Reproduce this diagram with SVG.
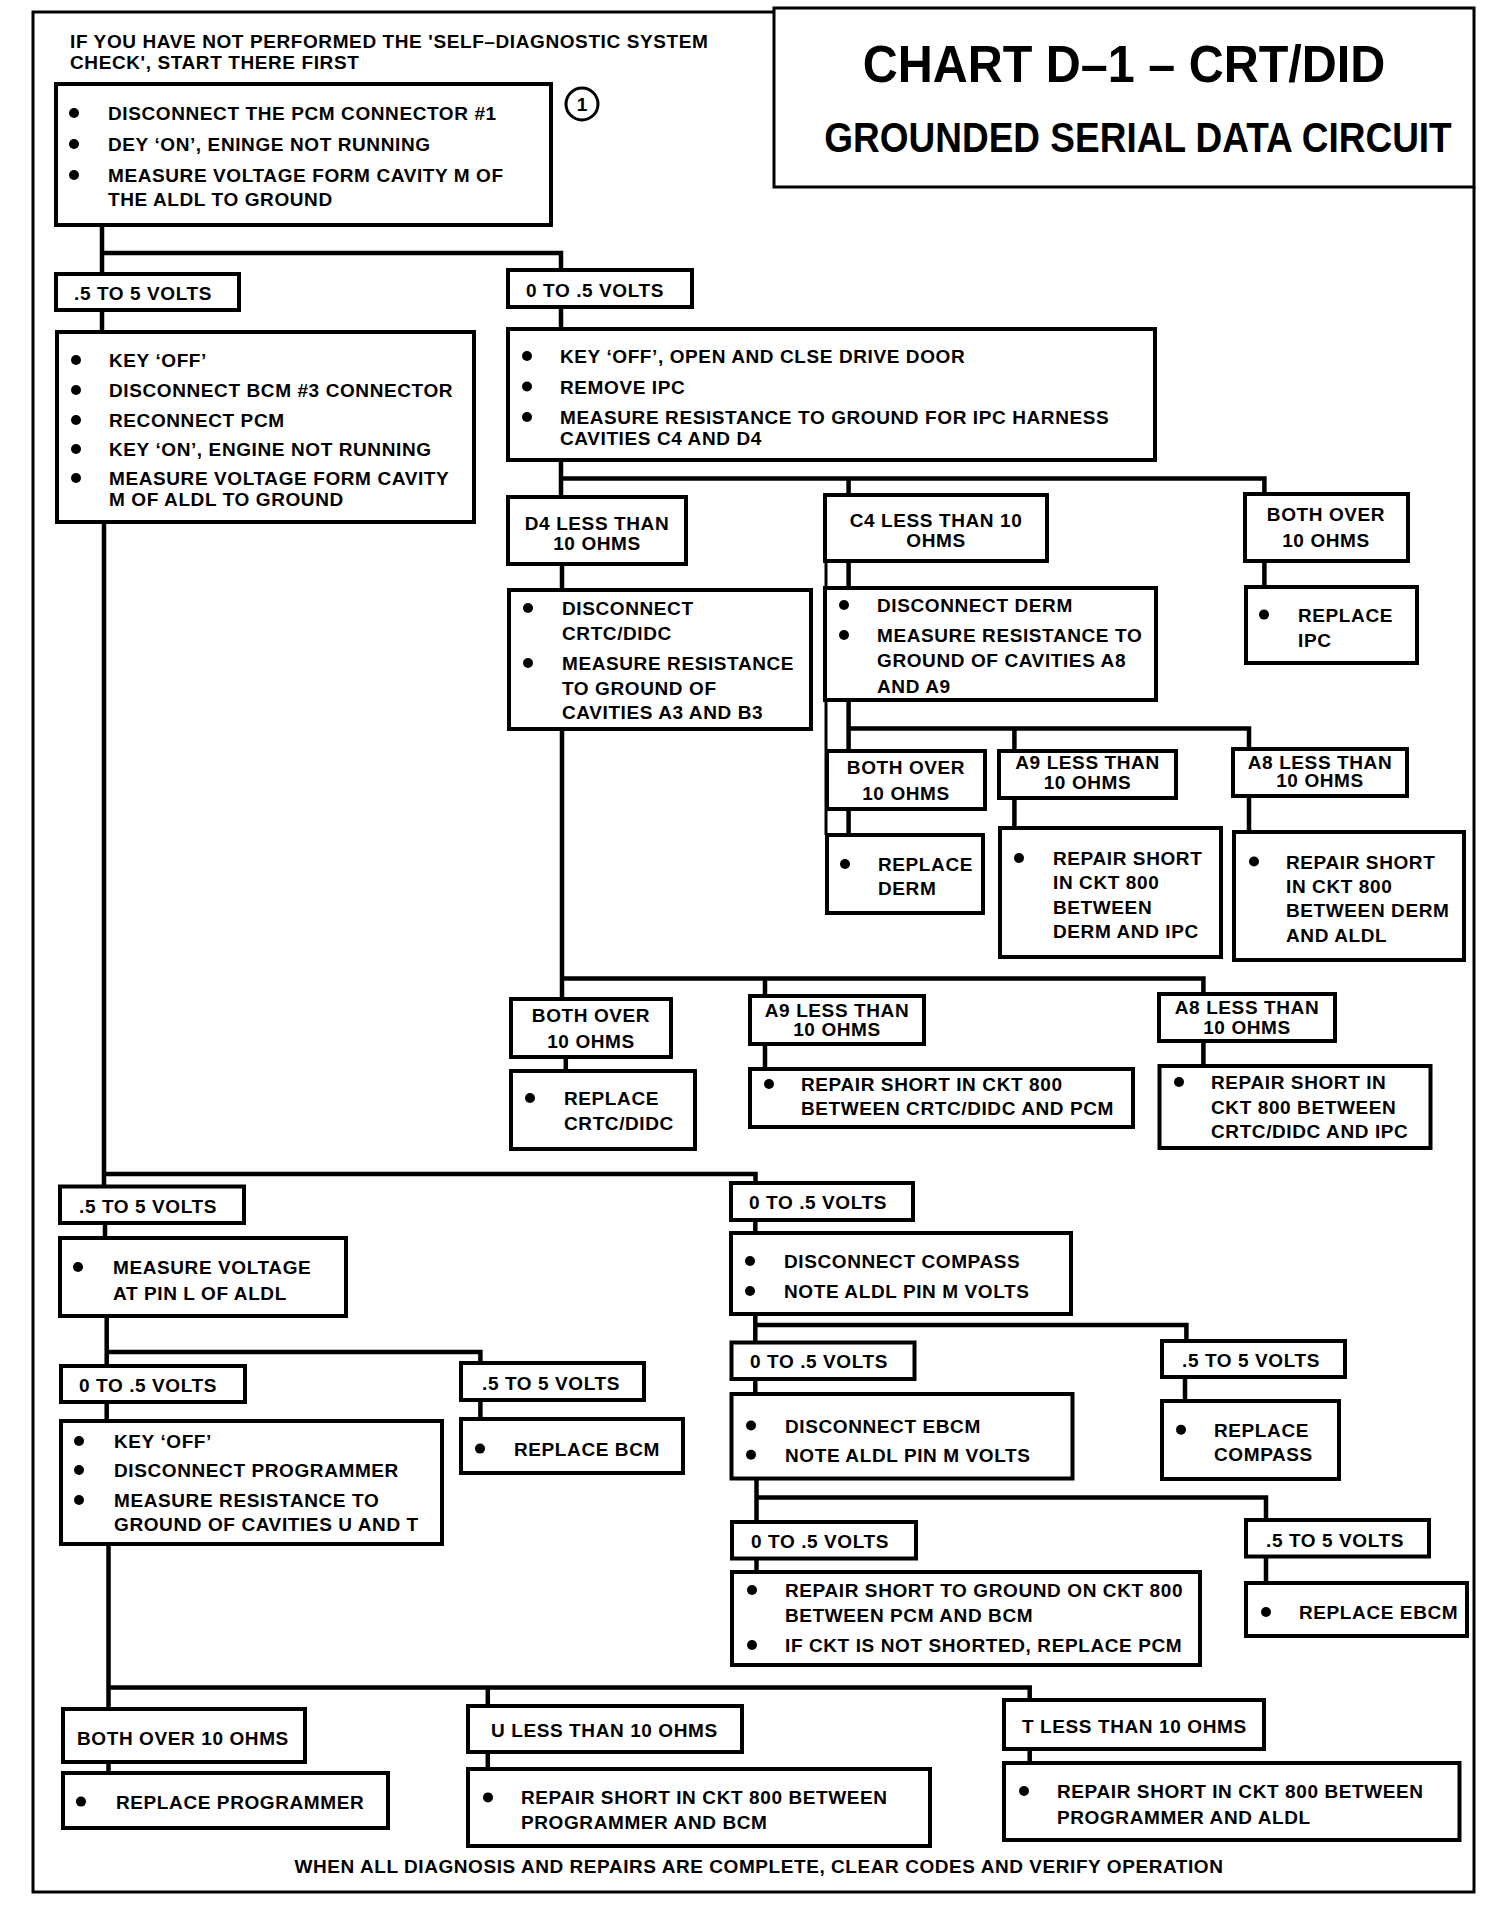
<svg xmlns="http://www.w3.org/2000/svg" width="1504" height="1912" viewBox="0 0 1504 1912">
<style>
.b{fill:#fff;stroke:#000;stroke-width:4}
.t{font-family:"Liberation Sans",Arial,sans-serif;font-weight:bold;font-size:19px;letter-spacing:0.6px;fill:#000}
.c{text-anchor:middle}
.w{fill:none;stroke:#000;stroke-width:4.5;stroke-linecap:square}
.f{fill:none;stroke:#000;stroke-width:3}
.h{font-family:"Liberation Sans",Arial,sans-serif;font-weight:bold;fill:#000;text-anchor:middle}
</style>
<defs><circle id="d" r="5" fill="#000"/></defs>
<rect width="1504" height="1912" fill="#fff"/>
<g id="frame">
<path class="f" d="M774,12 H33 V1892 H1474 V187"/>
</g>
<g id="title">
<rect x="774" y="8" width="700" height="179" class="f"/>
<text class="h" font-size="48.5" transform="translate(1124,82) scale(1,1.05)">CHART D–1 – CRT/DID</text>
<text class="h" font-size="37" transform="translate(1138,152) scale(1,1.15)">GROUNDED SERIAL DATA CIRCUIT</text>
</g>
<g id="connectors">
<path class="w" d="M102,225 V274 M102,253 H561 V270 M102,310 V332 M561,307 V329"/>
<path class="w" d="M104,522 V1186 M104,1174 H755.5 V1183"/>
<path class="w" d="M561,460 V497 M561,478.6 H1264.4 V494 M848.6,478.6 V495"/>
<path class="w" d="M562,564 V590 M562,729 V999 M562,978.6 H1203.4 V994 M765,978.6 V996"/>
<path class="w" d="M848.6,561 V588 M848.6,700 V751 M848.6,728.6 H1249 V749 M1014.4,728.6 V751 M848.6,809.7 V835"/>
<path class="f" d="M826,561 V835"/>
<path class="w" d="M1264.4,561 V587 M1014.4,797.5 V828 M1249,796 V832"/>
<path class="w" d="M565.8,1057 V1071 M765,1044 V1069 M1203.4,1041 V1066"/>
<path class="w" d="M105,1223 V1238 M106.7,1316 V1366 M106.7,1352 H480.4 V1363 M106.7,1402 V1421 M480.4,1400 V1419"/>
<path class="w" d="M108.5,1544 V1709 M108.5,1687.6 H1029.7 V1700 M487.8,1687.6 V1706 M108.5,1762 V1773 M487.8,1752 V1769 M1029.7,1749 V1763"/>
<path class="w" d="M755.3,1220 V1233 M755.3,1314 V1342.5 M755.3,1325 H1186.4 V1341 M755.3,1379 V1394 M1185,1377 V1401"/>
<path class="w" d="M756.5,1478.5 V1522 M756.5,1497.4 H1266 V1520 M756.5,1558.4 V1572 M1266,1556.5 V1583"/>
</g>
<g id="note">
<text class="t" x="70" y="48">IF YOU HAVE NOT PERFORMED THE 'SELF–DIAGNOSTIC SYSTEM</text>
<text class="t" x="70" y="69">CHECK', START THERE FIRST</text>
</g>
<g id="n1">
<rect class="b" x="56" y="84" width="495" height="141"/>
<use href="#d" x="74" y="113"/><use href="#d" x="74" y="144"/><use href="#d" x="74" y="175"/>
<text class="t" x="108" y="120">DISCONNECT THE PCM CONNECTOR #1</text>
<text class="t" x="108" y="151">DEY ‘ON’, ENINGE NOT RUNNING</text>
<text class="t" x="108" y="182">MEASURE VOLTAGE FORM CAVITY M OF</text>
<text class="t" x="108" y="206">THE ALDL TO GROUND</text>
</g>
<g id="step1">
<circle cx="582" cy="104" r="16" fill="none" stroke="#000" stroke-width="3"/>
<text class="h" x="582" y="111" font-size="19">1</text>
</g>
<g id="l1"><rect class="b" x="56" y="274" width="183" height="36"/><text class="t" x="74" y="300">.5 TO 5 VOLTS</text></g>
<g id="r1"><rect class="b" x="508" y="270" width="184" height="37"/><text class="t" x="526" y="297">0 TO .5 VOLTS</text></g>
<g id="n2">
<rect class="b" x="57" y="332" width="417" height="190"/>
<use href="#d" x="76" y="360"/><use href="#d" x="76" y="390"/><use href="#d" x="76" y="420"/><use href="#d" x="76" y="449"/><use href="#d" x="76" y="478"/>
<text class="t" x="109" y="367">KEY ‘OFF’</text>
<text class="t" x="109" y="397">DISCONNECT BCM #3 CONNECTOR</text>
<text class="t" x="109" y="427">RECONNECT PCM</text>
<text class="t" x="109" y="456">KEY ‘ON’, ENGINE NOT RUNNING</text>
<text class="t" x="109" y="485">MEASURE VOLTAGE FORM CAVITY</text>
<text class="t" x="109" y="506">M OF ALDL TO GROUND</text>
</g>
<g id="n3">
<rect class="b" x="508" y="329" width="647" height="131"/>
<use href="#d" x="527" y="356"/><use href="#d" x="527" y="386.5"/><use href="#d" x="527" y="417"/>
<text class="t" x="560" y="363">KEY ‘OFF’, OPEN AND CLSE DRIVE DOOR</text>
<text class="t" x="560" y="393.5">REMOVE IPC</text>
<text class="t" x="560" y="424">MEASURE RESISTANCE TO GROUND FOR IPC HARNESS</text>
<text class="t" x="560" y="445">CAVITIES C4 AND D4</text>
</g>
<g id="d4"><rect class="b" x="508" y="497" width="178" height="67"/>
<text class="t c" x="597" y="529.5">D4 LESS THAN</text><text class="t c" x="597" y="549.6">10 OHMS</text></g>
<g id="c4"><rect class="b" x="825" y="495" width="222" height="66"/>
<text class="t c" x="936" y="527">C4 LESS THAN 10</text><text class="t c" x="936" y="547">OHMS</text></g>
<g id="bothipc"><rect class="b" x="1245" y="494" width="163" height="67"/>
<text class="t c" x="1326" y="521">BOTH OVER</text><text class="t c" x="1326" y="547">10 OHMS</text></g>
<g id="repipc"><rect class="b" x="1246" y="587" width="171" height="76"/>
<use href="#d" x="1264" y="614.6"/>
<text class="t" x="1298" y="621.6">REPLACE</text><text class="t" x="1298" y="647">IPC</text></g>
<g id="n4"><rect class="b" x="509" y="590" width="302" height="139"/>
<use href="#d" x="528" y="608"/><use href="#d" x="528" y="663"/>
<text class="t" x="562" y="615">DISCONNECT</text>
<text class="t" x="562" y="640">CRTC/DIDC</text>
<text class="t" x="562" y="670">MEASURE RESISTANCE</text>
<text class="t" x="562" y="695">TO GROUND OF</text>
<text class="t" x="562" y="719">CAVITIES A3 AND B3</text></g>
<g id="n5"><rect class="b" x="825" y="588" width="331" height="112"/>
<use href="#d" x="844" y="605"/><use href="#d" x="844" y="635"/>
<text class="t" x="877" y="612">DISCONNECT DERM</text>
<text class="t" x="877" y="642">MEASURE RESISTANCE TO</text>
<text class="t" x="877" y="667">GROUND OF CAVITIES A8</text>
<text class="t" x="877" y="693">AND A9</text></g>
<g id="bothderm"><rect class="b" x="827" y="751" width="158" height="58"/>
<text class="t c" x="906" y="774">BOTH OVER</text><text class="t c" x="906" y="800">10 OHMS</text></g>
<g id="repderm"><rect class="b" x="827" y="835" width="156" height="78"/>
<use href="#d" x="845" y="864"/>
<text class="t" x="878" y="871">REPLACE</text><text class="t" x="878" y="895">DERM</text></g>
<g id="a9derm"><rect class="b" x="999" y="751" width="177" height="47"/>
<text class="t c" x="1087.5" y="769">A9 LESS THAN</text><text class="t c" x="1087.5" y="788.6">10 OHMS</text></g>
<g id="repdermipc"><rect class="b" x="1000" y="828" width="221" height="129"/>
<use href="#d" x="1019" y="858"/>
<text class="t" x="1053" y="865">REPAIR SHORT</text>
<text class="t" x="1053" y="889">IN CKT 800</text>
<text class="t" x="1053" y="914">BETWEEN</text>
<text class="t" x="1053" y="938">DERM AND IPC</text></g>
<g id="a8derm"><rect class="b" x="1233" y="749" width="174" height="47"/>
<text class="t c" x="1320" y="769">A8 LESS THAN</text><text class="t c" x="1320" y="787.4">10 OHMS</text></g>
<g id="repdermaldl"><rect class="b" x="1234" y="832" width="230" height="128"/>
<use href="#d" x="1254" y="861.5"/>
<text class="t" x="1286" y="868.5">REPAIR SHORT</text>
<text class="t" x="1286" y="893">IN CKT 800</text>
<text class="t" x="1286" y="917">BETWEEN DERM</text>
<text class="t" x="1286" y="941.7">AND ALDL</text></g>
<g id="bothcrtc"><rect class="b" x="511" y="999" width="160" height="58"/>
<text class="t c" x="591" y="1022">BOTH OVER</text><text class="t c" x="591" y="1048">10 OHMS</text></g>
<g id="repcrtc"><rect class="b" x="511" y="1071" width="184" height="78"/>
<use href="#d" x="530" y="1098"/>
<text class="t" x="564" y="1105">REPLACE</text><text class="t" x="564" y="1129.5">CRTC/DIDC</text></g>
<g id="a9crtc"><rect class="b" x="750" y="996" width="174" height="48"/>
<text class="t c" x="837" y="1016.7">A9 LESS THAN</text><text class="t c" x="837" y="1036">10 OHMS</text></g>
<g id="repcrtcpcm"><rect class="b" x="750" y="1069" width="383" height="58"/>
<use href="#d" x="769" y="1084"/>
<text class="t" x="801" y="1091">REPAIR SHORT IN CKT 800</text>
<text class="t" x="801" y="1115.4">BETWEEN CRTC/DIDC AND PCM</text></g>
<g id="a8crtc"><rect class="b" x="1159" y="994" width="176" height="47"/>
<text class="t c" x="1247" y="1013.6">A8 LESS THAN</text><text class="t c" x="1247" y="1034.3">10 OHMS</text></g>
<g id="repcrtcipc"><rect class="b" x="1159.5" y="1066" width="271" height="82"/>
<use href="#d" x="1179" y="1082"/>
<text class="t" x="1211" y="1089">REPAIR SHORT IN</text>
<text class="t" x="1211" y="1113.6">CKT 800 BETWEEN</text>
<text class="t" x="1211" y="1138">CRTC/DIDC AND IPC</text></g>
<g id="l2"><rect class="b" x="60" y="1186.5" width="184" height="36.5"/><text class="t" x="79" y="1213">.5 TO 5 VOLTS</text></g>
<g id="n6"><rect class="b" x="60" y="1238" width="286" height="78"/>
<use href="#d" x="78" y="1267"/>
<text class="t" x="113" y="1274">MEASURE VOLTAGE</text><text class="t" x="113" y="1299.6">AT PIN L OF ALDL</text></g>
<g id="l3"><rect class="b" x="61" y="1366" width="184" height="36"/><text class="t" x="79" y="1392">0 TO .5 VOLTS</text></g>
<g id="n7"><rect class="b" x="61" y="1421" width="381" height="123"/>
<use href="#d" x="79" y="1441"/><use href="#d" x="79" y="1470"/><use href="#d" x="79" y="1500"/>
<text class="t" x="114" y="1448">KEY ‘OFF’</text>
<text class="t" x="114" y="1477">DISCONNECT PROGRAMMER</text>
<text class="t" x="114" y="1507">MEASURE RESISTANCE TO</text>
<text class="t" x="114" y="1531">GROUND OF CAVITIES U AND T</text></g>
<g id="l4"><rect class="b" x="461" y="1363" width="183" height="37"/><text class="t" x="482" y="1390">.5 TO 5 VOLTS</text></g>
<g id="repbcm"><rect class="b" x="461" y="1419" width="222" height="54"/>
<use href="#d" x="480" y="1448.6"/><text class="t" x="514" y="1455.6">REPLACE BCM</text></g>
<g id="r2"><rect class="b" x="731" y="1183" width="182" height="37"/><text class="t" x="749" y="1208.7">0 TO .5 VOLTS</text></g>
<g id="n8"><rect class="b" x="731" y="1233" width="340" height="81"/>
<use href="#d" x="750" y="1261"/><use href="#d" x="750" y="1291"/>
<text class="t" x="784" y="1268">DISCONNECT COMPASS</text><text class="t" x="784" y="1298">NOTE ALDL PIN M VOLTS</text></g>
<g id="r3"><rect class="b" x="731.5" y="1342.5" width="183" height="36.5"/><text class="t" x="750" y="1368">0 TO .5 VOLTS</text></g>
<g id="n9"><rect class="b" x="731.5" y="1394" width="341" height="84.5"/>
<use href="#d" x="751" y="1425.5"/><use href="#d" x="751" y="1454.7"/>
<text class="t" x="785" y="1432.5">DISCONNECT EBCM</text><text class="t" x="785" y="1461.7">NOTE ALDL PIN M VOLTS</text></g>
<g id="l5"><rect class="b" x="1162" y="1341" width="183" height="36"/><text class="t" x="1182" y="1366.6">.5 TO 5 VOLTS</text></g>
<g id="repcompass"><rect class="b" x="1162" y="1401" width="177" height="78"/>
<use href="#d" x="1181" y="1429.7"/>
<text class="t" x="1214" y="1436.7">REPLACE</text><text class="t" x="1214" y="1461">COMPASS</text></g>
<g id="r4"><rect class="b" x="732" y="1522" width="184" height="36.5"/><text class="t" x="751" y="1548">0 TO .5 VOLTS</text></g>
<g id="n10"><rect class="b" x="732" y="1572" width="468" height="93"/>
<use href="#d" x="752" y="1590"/><use href="#d" x="752" y="1645"/>
<text class="t" x="785" y="1597">REPAIR SHORT TO GROUND ON CKT 800</text>
<text class="t" x="785" y="1621.5">BETWEEN PCM AND BCM</text>
<text class="t" x="785" y="1652">IF CKT IS NOT SHORTED, REPLACE PCM</text></g>
<g id="l6"><rect class="b" x="1246" y="1520" width="183" height="36.5"/><text class="t" x="1266" y="1546.5">.5 TO 5 VOLTS</text></g>
<g id="repebcm"><rect class="b" x="1246" y="1583" width="221" height="53"/>
<use href="#d" x="1266" y="1612"/><text class="t" x="1299" y="1619">REPLACE EBCM</text></g>
<g id="bothprog"><rect class="b" x="63" y="1709" width="242" height="53"/><text class="t" x="77" y="1745">BOTH OVER 10 OHMS</text></g>
<g id="repprog"><rect class="b" x="63" y="1773" width="325" height="55"/>
<use href="#d" x="81" y="1801.6"/><text class="t" x="116" y="1808.6">REPLACE PROGRAMMER</text></g>
<g id="uless"><rect class="b" x="468" y="1706" width="274" height="46"/><text class="t" x="491" y="1737">U LESS THAN 10 OHMS</text></g>
<g id="repprogbcm"><rect class="b" x="468" y="1769" width="462" height="77"/>
<use href="#d" x="488" y="1797.4"/>
<text class="t" x="521" y="1804.4">REPAIR SHORT IN CKT 800 BETWEEN</text>
<text class="t" x="521" y="1828.8">PROGRAMMER AND BCM</text></g>
<g id="tless"><rect class="b" x="1004" y="1700" width="260" height="49"/><text class="t" x="1022" y="1732.5">T LESS THAN 10 OHMS</text></g>
<g id="repprogaldl"><rect class="b" x="1004" y="1763" width="455.5" height="77"/>
<use href="#d" x="1024" y="1791"/>
<text class="t" x="1057" y="1798">REPAIR SHORT IN CKT 800 BETWEEN</text>
<text class="t" x="1057" y="1824">PROGRAMMER AND ALDL</text></g>
<g id="footer">
<text class="t" x="294.5" y="1873" textLength="929">WHEN ALL DIAGNOSIS AND REPAIRS ARE COMPLETE, CLEAR CODES AND VERIFY OPERATION</text>
</g>
</svg>
